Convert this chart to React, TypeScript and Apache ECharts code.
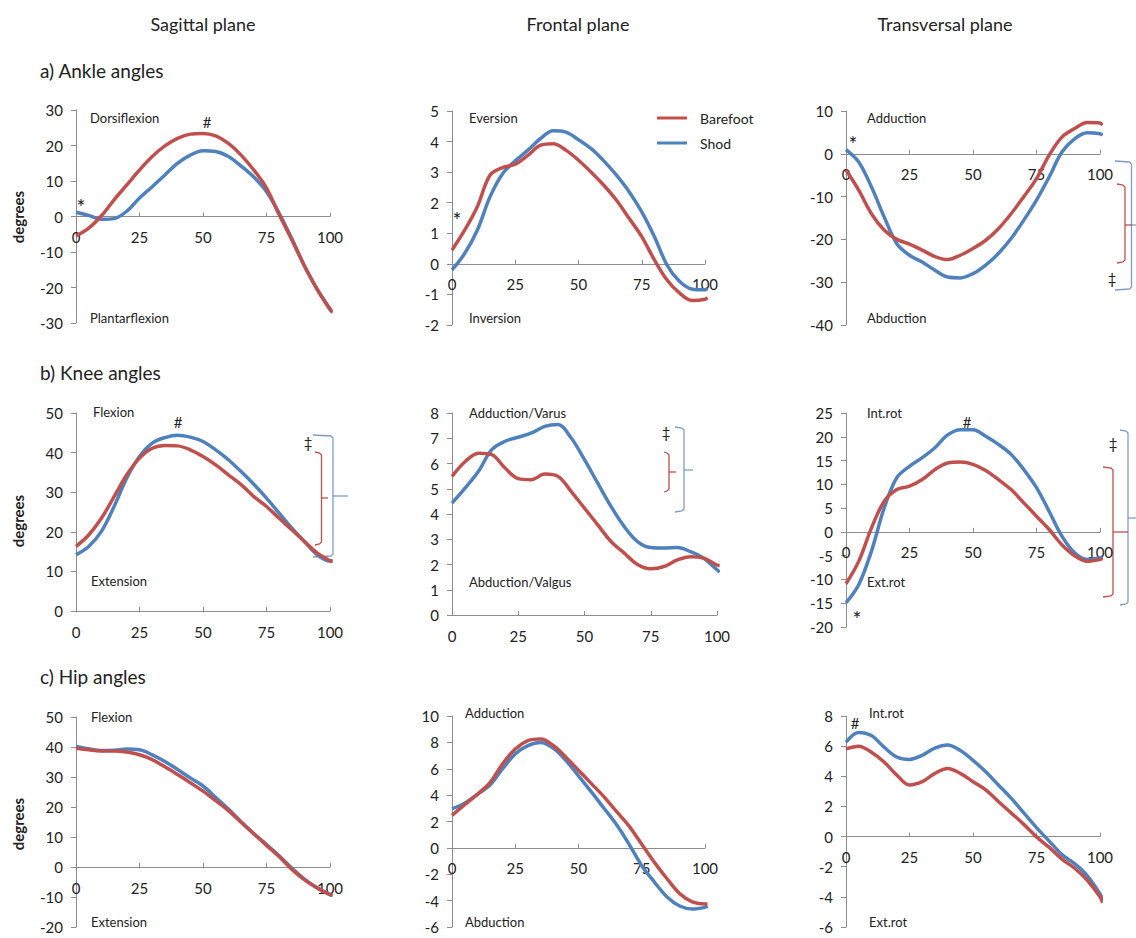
import React, { useEffect, useRef } from "react";
import * as echarts from "echarts";

const FONT = "Lato, 'Open Sans', sans-serif";
const RED = "#C0504D";
const BLUE = "#4F81BD";
const AXIS = "#8c8c8c";
const TEXT = "#222";

const PCT = [0, 5, 10, 15, 20, 25, 30, 35, 40, 45, 50, 55, 60, 65, 70, 75, 80, 85, 90, 95, 100, 101];
const X_TICKS = [0, 100, 25];

// a) Ankle
const ANKLE_SAG_BAREFOOT = [-5.5, -3.3, 0.2, 4.7, 8.9, 13.1, 16.9, 19.9, 22, 23.2, 23.4, 22.7, 20.6, 17.3, 13.1, 8, 0.5, -6.6, -14, -20.6, -26.2, -27];
const ANKLE_SAG_SHOD = [1.2, 0.3, -0.8, -0.6, 1.5, 5.2, 8.4, 11.7, 15, 17.3, 18.5, 18.3, 16.9, 14.2, 11.1, 7, 0.9, -6.3, -14, -20.5, -26, -27];
const ANKLE_FRO_BAREFOOT = [0.45, 1.1, 1.87, 2.9, 3.15, 3.26, 3.55, 3.88, 3.93, 3.72, 3.39, 3.0, 2.57, 2.08, 1.49, 0.89, 0.13, -0.53, -0.96, -1.2, -1.16, -1.1];
const ANKLE_FRO_SHOD = [-0.2, 0.34, 1.1, 2.19, 2.95, 3.37, 3.72, 4.1, 4.35, 4.31, 4.06, 3.77, 3.37, 2.9, 2.36, 1.7, 0.89, -0.04, -0.58, -0.83, -0.85, -0.8];
const ANKLE_TRA_BAREFOOT = [-3.8, -8.5, -14, -17.8, -20, -21.1, -22.5, -24, -24.7, -23.7, -22.1, -20.2, -17.5, -14, -10, -5.8, -0.3, 3.9, 5.9, 7.3, 7.2, 6.7];
const ANKLE_TRA_SHOD = [1.0, -1.9, -7.7, -14.7, -21, -23.7, -25.3, -27.2, -28.8, -29, -28, -26, -23.3, -19.8, -15.5, -10.8, -5.4, 0.4, 3.5, 4.9, 4.7, 4.3];

// b) Knee
const KNEE_SAG_BAREFOOT = [16.3, 19.2, 23.4, 28.9, 34.4, 38.6, 41.1, 41.8, 41.7, 40.7, 39, 36.9, 34.4, 31.9, 28.9, 26.4, 23.4, 20.5, 17.5, 14.6, 12.7, 12.6];
const KNEE_SAG_SHOD = [14.2, 16.3, 20.1, 26.4, 33.6, 39, 42.4, 43.8, 44.4, 43.9, 42.8, 40.7, 38.2, 35.2, 32, 28.5, 24.7, 20.9, 17.5, 14.2, 12.6, 12.6];
const KNEE_FRO_BAREFOOT = [5.49, 6.08, 6.41, 6.35, 5.82, 5.4, 5.36, 5.58, 5.49, 4.89, 4.23, 3.57, 2.91, 2.45, 2.0, 1.83, 1.92, 2.18, 2.31, 2.25, 1.98, 1.95];
const KNEE_FRO_SHOD = [4.43, 5.03, 5.69, 6.55, 6.88, 7.04, 7.21, 7.47, 7.54, 7.01, 6.15, 5.22, 4.3, 3.5, 2.91, 2.67, 2.65, 2.67, 2.51, 2.25, 1.79, 1.7];
const KNEE_TRA_BAREFOOT = [-10.9, -6.2, 0.8, 6.4, 8.9, 9.6, 11, 13.1, 14.5, 14.7, 14.2, 12.9, 11, 8.9, 6.1, 3.3, 0.5, -2.7, -5, -6.2, -5.8, -5.5];
const KNEE_TRA_SHOD = [-14.9, -11.1, -4.1, 5, 11.4, 13.8, 15.6, 17.7, 20.4, 21.5, 21.5, 20.1, 18.4, 16.3, 13.1, 9.3, 4.3, -0.9, -4.4, -5.8, -5.5, -5.2];

// c) Hip
const HIP_SAG_BAREFOOT = [39.6, 39.1, 38.7, 38.7, 38.3, 37.4, 35.8, 33.4, 30.8, 28.1, 25.3, 22.1, 18.8, 14.9, 11.1, 7.2, 3.4, -0.8, -4.3, -7, -9.2, -9.3];
const HIP_SAG_SHOD = [40.2, 39.4, 38.8, 38.9, 39.3, 39.1, 37.4, 35.2, 32.5, 29.7, 27, 23.2, 19.3, 15.1, 11.1, 7.5, 3.7, -0.4, -4.1, -7, -9.2, -9.5];
const HIP_FRO_BAREFOOT = [2.47, 3.27, 4.06, 4.94, 6.38, 7.5, 8.13, 8.25, 7.76, 6.88, 5.89, 4.89, 3.89, 2.77, 1.65, 0.27, -1.1, -2.34, -3.47, -4.09, -4.26, -4.25];
const HIP_FRO_SHOD = [2.97, 3.39, 4.06, 4.76, 6.0, 7.13, 7.76, 8.0, 7.56, 6.63, 5.46, 4.26, 3.02, 1.77, 0.27, -1.35, -2.59, -3.72, -4.41, -4.64, -4.51, -4.4];
const HIP_TRA_BAREFOOT = [5.82, 6.0, 5.6, 4.95, 4.08, 3.42, 3.64, 4.19, 4.51, 4.19, 3.64, 3.1, 2.33, 1.57, 0.81, -0.02, -0.72, -1.5, -2.1, -2.9, -4.0, -4.38];
const HIP_TRA_SHOD = [6.26, 6.91, 6.7, 5.93, 5.28, 5.12, 5.39, 5.87, 6.08, 5.71, 5.06, 4.3, 3.42, 2.55, 1.57, 0.59, -0.3, -1.2, -1.8, -2.6, -3.8, -4.2];

// y axis ranges [min, max, interval]
const Y_ANKLE_SAG = [-30, 30, 10];
const Y_ANKLE_FRO = [-2, 5, 1];
const Y_ANKLE_TRA = [-40, 10, 10];
const Y_KNEE_SAG = [0, 50, 10];
const Y_KNEE_FRO = [0, 8, 1];
const Y_KNEE_TRA = [-20, 25, 5];
const Y_HIP_SAG = [-20, 50, 10];
const Y_HIP_FRO = [-6, 10, 2];
const Y_HIP_TRA = [-6, 8, 2];

const PANELS = [
  { box: [76, 110, 254, 213], y: Y_ANKLE_SAG, bare: ANKLE_SAG_BAREFOOT, shod: ANKLE_SAG_SHOD },
  { box: [452, 111, 253, 214], y: Y_ANKLE_FRO, bare: ANKLE_FRO_BAREFOOT, shod: ANKLE_FRO_SHOD },
  { box: [846, 111, 254, 214], y: Y_ANKLE_TRA, bare: ANKLE_TRA_BAREFOOT, shod: ANKLE_TRA_SHOD },
  { box: [76, 413, 254, 198], y: Y_KNEE_SAG, bare: KNEE_SAG_BAREFOOT, shod: KNEE_SAG_SHOD },
  { box: [452, 413, 265, 202], y: Y_KNEE_FRO, bare: KNEE_FRO_BAREFOOT, shod: KNEE_FRO_SHOD },
  { box: [846, 413, 254, 214], y: Y_KNEE_TRA, bare: KNEE_TRA_BAREFOOT, shod: KNEE_TRA_SHOD },
  { box: [76, 717, 254, 210], y: Y_HIP_SAG, bare: HIP_SAG_BAREFOOT, shod: HIP_SAG_SHOD },
  { box: [452, 716, 253, 211], y: Y_HIP_FRO, bare: HIP_FRO_BAREFOOT, shod: HIP_FRO_SHOD },
  { box: [846, 716, 254, 211], y: Y_HIP_TRA, bare: HIP_TRA_BAREFOOT, shod: HIP_TRA_SHOD },
];

function txt(text: string, x: number, y: number, size = 13, extra: any = {}) {
  const align = extra.align || "left";
  return {
    type: "text",
    x,
    y,
    rotation: extra.rotation || 0,
    style: {
      text,
      fontSize: size,
      fontFamily: FONT,
      fontWeight: extra.fontWeight || "normal",
      fill: TEXT,
      align,
      textAlign: align,
      verticalAlign: "middle",
      textVerticalAlign: "middle",
    },
  };
}

function bracket(x: number, top: number, bottom: number, serif: number, mid: number, tick: number, color: string) {
  return [
    {
      type: "polyline",
      shape: { points: [[serif, top], [x - 2, top + 1], [x, top + 3], [x, bottom - 3], [x - 2, bottom - 1], [serif, bottom]] },
      style: { stroke: color, lineWidth: 1.3, fill: null },
    },
    {
      type: "line",
      shape: { x1: x, y1: mid, x2: tick, y2: mid },
      style: { stroke: color, lineWidth: 1.3 },
    },
  ];
}

const GRAPHICS: any[] = [
  txt("Sagittal plane", 203, 24, 18, { align: "center" }),
  txt("Frontal plane", 578, 24, 18, { align: "center" }),
  txt("Transversal plane", 945, 24, 18, { align: "center" }),
  txt("a) Ankle angles", 40, 70, 19),
  txt("b) Knee angles", 40, 372, 19),
  txt("c) Hip angles", 40, 676, 19),
  txt("degrees", 18, 217, 15, { align: "center", rotation: Math.PI / 2, fontWeight: "bold" }),
  txt("degrees", 18, 521, 15, { align: "center", rotation: Math.PI / 2, fontWeight: "bold" }),
  txt("degrees", 18, 824, 15, { align: "center", rotation: Math.PI / 2, fontWeight: "bold" }),
  // a
  txt("Dorsiflexion", 90, 118),
  txt("Plantarflexion", 90, 318),
  txt("#", 207, 122, 15, { align: "center" }),
  txt("*", 81, 206, 21, { align: "center" }),
  txt("Eversion", 469, 118),
  txt("Inversion", 469, 318),
  txt("*", 457, 219, 21, { align: "center" }),
  txt("Adduction", 867, 118),
  txt("Abduction", 867, 318),
  txt("*", 853, 143, 21, { align: "center" }),
  txt("‡", 1112, 278, 15, { align: "center" }),
  // b
  txt("Flexion", 93, 412),
  txt("Extension", 91, 581),
  txt("#", 178, 422, 15, { align: "center" }),
  txt("‡", 308, 442, 15, { align: "center" }),
  txt("Adduction/Varus", 469, 413),
  txt("Abduction/Valgus", 469, 582),
  txt("‡", 666, 432, 15, { align: "center" }),
  txt("Int.rot", 867, 413),
  txt("Ext.rot", 867, 582),
  txt("#", 967, 422, 15, { align: "center" }),
  txt("*", 857, 618, 21, { align: "center" }),
  txt("‡", 1113, 443, 15, { align: "center" }),
  // c
  txt("Flexion", 91, 717),
  txt("Extension", 91, 922),
  txt("Adduction", 465, 713),
  txt("Abduction", 465, 922),
  txt("Int.rot", 869, 713),
  txt("Ext.rot", 869, 922),
  txt("#", 855, 723, 15, { align: "center" }),
  // brackets
  ...bracket(1131.5, 161, 290, 1115, 225, 1136, "#7f9cc8"),
  ...bracket(1125, 184, 263, 1117, 225, 1132, RED),
  ...bracket(333, 435, 557, 313, 496, 348, "#7f9cc8"),
  ...bracket(321.5, 452, 545, 315, 498, 328, RED),
  ...bracket(684, 427, 512, 675, 470, 693, "#7f9cc8"),
  ...bracket(669, 452, 492, 664, 472, 676, RED),
  ...bracket(1128, 430, 605, 1120, 518, 1136, "#7f9cc8"),
  ...bracket(1113, 467, 597, 1103, 532, 1128, RED),
];

function buildOption() {
  const grid = PANELS.map((p) => ({
    left: p.box[0],
    top: p.box[1],
    width: p.box[2],
    height: p.box[3],
    outerBoundsMode: "none",
  }));
  const xAxis = PANELS.map((p, i) => {
    // place the x axis (line, ticks and labels) at the y = 0 level of its panel
    const zeroOffset = -(p.box[3] * (0 - p.y[0])) / (p.y[1] - p.y[0]);
    return {
      gridIndex: i,
      type: "value",
      position: "bottom",
      offset: zeroOffset,
      min: X_TICKS[0],
      max: X_TICKS[1],
      interval: X_TICKS[2],
      axisLine: { show: true, onZero: false, lineStyle: { color: AXIS, width: 1 } },
      axisTick: { show: true, inside: true, length: 4, lineStyle: { color: AXIS } },
      axisLabel: { fontSize: 15, margin: 13, color: TEXT, fontFamily: FONT },
      splitLine: { show: false },
    };
  });
  const yAxis = PANELS.map((p, i) => ({
    gridIndex: i,
    type: "value",
    min: p.y[0],
    max: p.y[1],
    interval: p.y[2],
    axisLine: { show: true, onZero: false, lineStyle: { color: AXIS, width: 1 } },
    axisTick: { show: true, length: 5, lineStyle: { color: AXIS } },
    axisLabel: { fontSize: 15, margin: 13, color: TEXT, fontFamily: FONT },
    splitLine: { show: false },
  }));
  const series: any[] = [];
  PANELS.forEach((p, i) => {
    series.push({
      name: "Shod",
      type: "line",
      xAxisIndex: i,
      yAxisIndex: i,
      data: PCT.map((x, k) => [x, p.shod[k]]),
      smooth: 0.35,
      showSymbol: false,
      clip: false,
      color: BLUE,
      lineStyle: { color: BLUE, width: 3.5 },
    });
    series.push({
      name: "Barefoot",
      type: "line",
      xAxisIndex: i,
      yAxisIndex: i,
      data: PCT.map((x, k) => [x, p.bare[k]]),
      smooth: 0.35,
      showSymbol: false,
      clip: false,
      color: RED,
      lineStyle: { color: RED, width: 3.5 },
    });
  });
  return {
    animation: false,
    backgroundColor: "#fff",
    textStyle: { fontFamily: FONT },
    legend: {
      data: ["Barefoot", "Shod"],
      orient: "vertical",
      left: 652,
      top: 106,
      itemWidth: 30,
      itemHeight: 3,
      itemGap: 11,
      icon: "rect",
      textStyle: { fontSize: 14, fontFamily: FONT, color: TEXT, padding: [0, 0, 0, 8] },
    },
    grid,
    xAxis,
    yAxis,
    series,
    graphic: GRAPHICS,
  };
}

export default function App() {
  const ref = useRef<HTMLDivElement>(null);
  useEffect(() => {
    document.body.style.margin = "0";
    const chart = echarts.init(ref.current!, null, { renderer: "svg" });
    chart.setOption(buildOption() as any);
    return () => chart.dispose();
  }, []);
  return <div ref={ref} style={{ width: 1136, height: 938, background: "#fff" }} />;
}
